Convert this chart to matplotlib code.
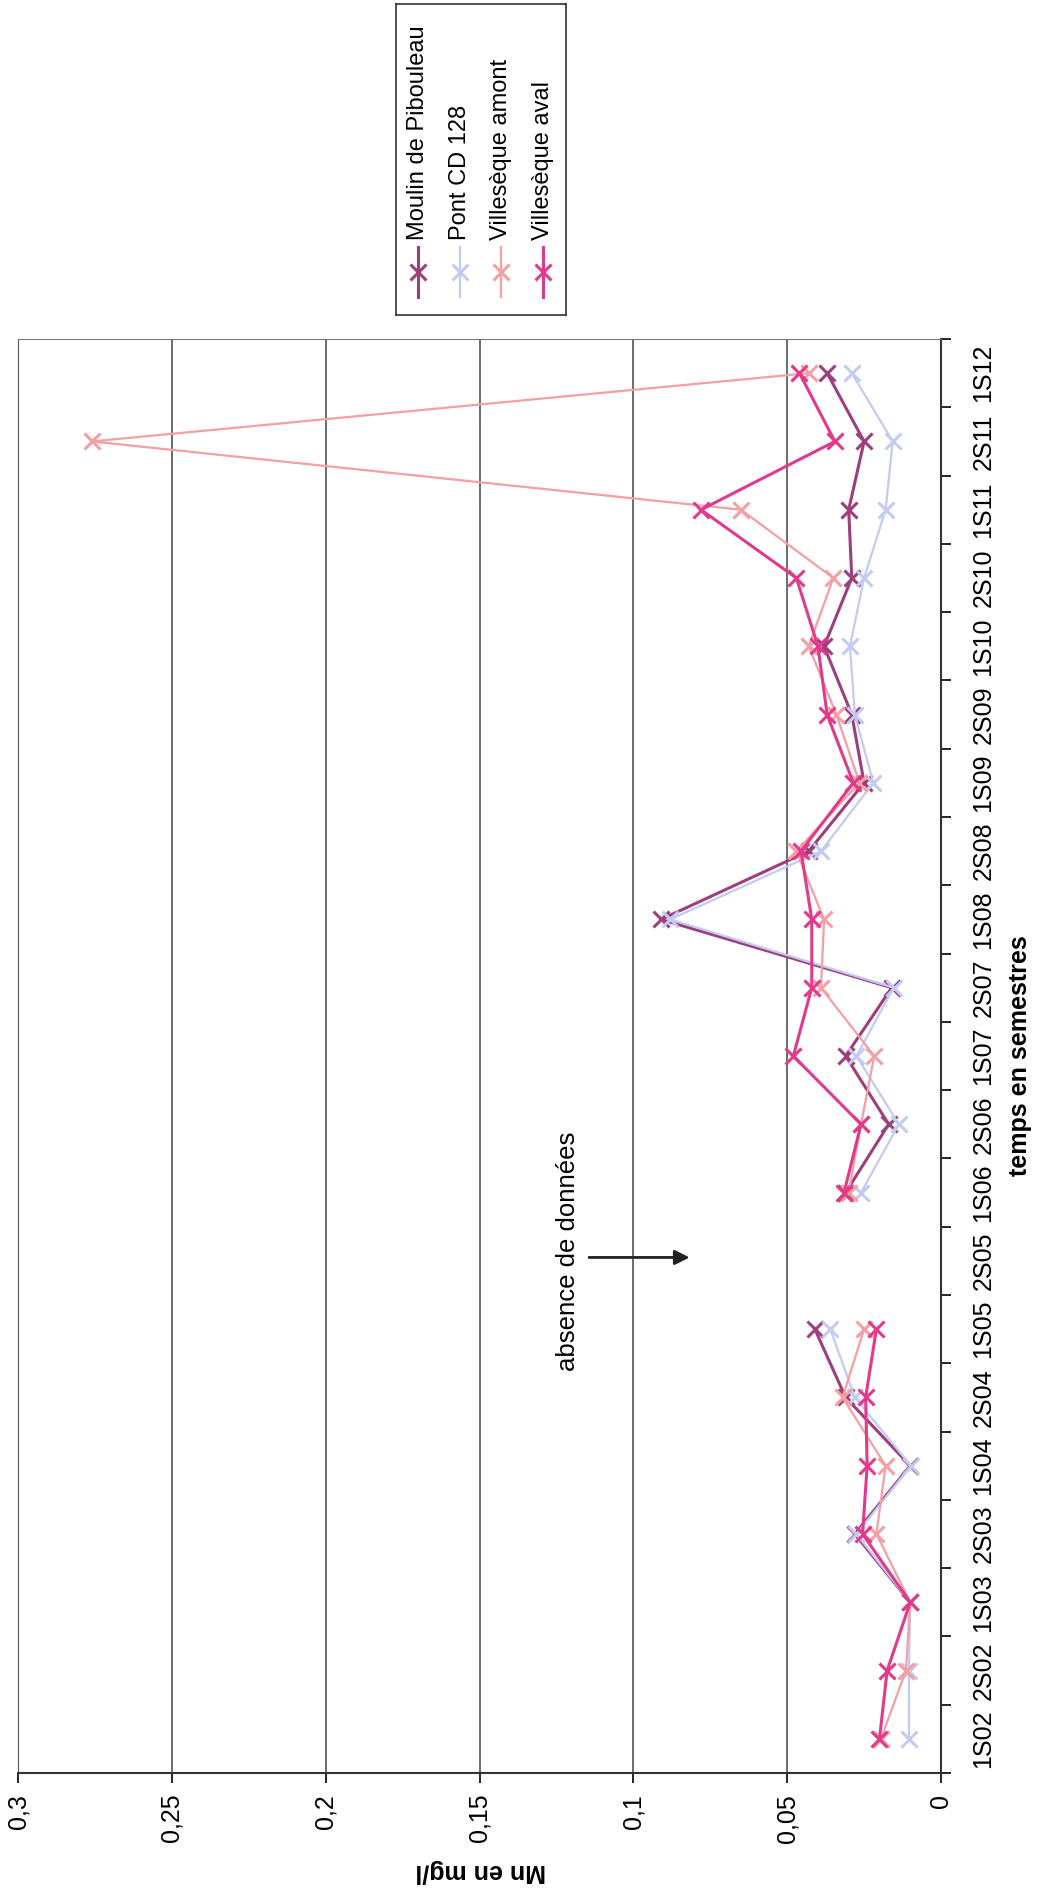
import numpy as np
import matplotlib
matplotlib.use("Agg")
import matplotlib.pyplot as plt

plt.rcParams['font.family'] = ['Liberation Sans', 'DejaVu Sans']

# semesters, bottom to top
semestres = ["1S02", "2S02", "1S03", "2S03", "1S04", "2S04", "1S05", "2S05",
             "1S06", "2S06", "1S07", "2S07", "1S08", "2S08", "1S09", "2S09",
             "1S10", "2S10", "1S11", "2S11", "1S12"]

nan = np.nan
moulin = [nan, nan, 0.010, 0.028, 0.010, 0.031, 0.041, nan,
          0.031, 0.017, 0.031, 0.016, 0.091, 0.043, 0.025, 0.029,
          0.038, 0.029, 0.030, 0.025, 0.037]
pont = [0.0104, 0.0104, 0.010, 0.0275, 0.0098, 0.028, 0.036, nan,
        0.026, 0.0137, 0.0275, 0.0154, 0.088, 0.039, 0.022, 0.028,
        0.0296, 0.025, 0.018, 0.0157, 0.029]
amont = [0.0195, 0.0114, 0.010, 0.021, 0.018, 0.032, 0.025, nan,
         0.030, 0.026, 0.0217, 0.039, 0.038, 0.047, 0.0265, 0.034,
         0.043, 0.035, 0.065, 0.276, 0.043]
aval = [0.020, 0.0175, 0.010, 0.0255, 0.024, 0.0245, 0.021, nan,
        0.0315, 0.026, 0.048, 0.042, 0.042, 0.0455, 0.0285, 0.037,
        0.040, 0.047, 0.078, 0.0345, 0.046]

noms = ["Moulin de Pibouleau", "Pont CD 128", "Villesèque amont", "Villesèque aval"]
couleurs = ["#9c3f7c", "#c3cbf3", "#f59ea3", "#e2398b"]
epaisseurs = [2.2, 1.6, 1.6, 2.2]

value_ticks = [0, 0.05, 0.1, 0.15, 0.2, 0.25, 0.3]
value_labels = ["0", "0,05", "0,1", "0,15", "0,2", "0,25", "0,3"]

W, H = 1040, 1891
fig = plt.figure(figsize=(W / 100, H / 100), dpi=100)
ax = fig.add_axes([18 / W, (H - 1773) / H, (941 - 18) / W, (1773 - 339) / H])

pos = np.arange(len(semestres))
for vals, nom, col, lw in zip([moulin, pont, amont, aval], noms, couleurs, epaisseurs):
    ax.plot(vals, pos, color=col, lw=lw, marker='x', ms=12, mew=2.2, label=nom)

# value axis (horizontal, reversed)
ax.set_xlim(0.3, 0)
ax.set_xticks(value_ticks)
ax.set_xticklabels(value_labels, rotation=90, fontsize=18)
ax.tick_params(axis='x', direction='out', length=7, width=1.2, pad=8)
ax.xaxis.grid(True, color='#444444', lw=1.1)
ax.set_axisbelow(True)

# category axis on the right
ax.set_ylim(-0.5, len(semestres) - 0.5)
ax.yaxis.tick_right()
ax.set_yticks(np.arange(-0.5, len(semestres), 1))
ax.set_yticklabels([])
ax.set_yticks(pos, minor=True)
ax.set_yticklabels(semestres, minor=True, rotation=90, fontsize=18, va='center')
ax.tick_params(axis='y', which='major', direction='out', length=7, width=1.2)
ax.tick_params(axis='y', which='minor', length=0, pad=22)

ax.spines['left'].set_color('#555555')
ax.spines['top'].set_color('#777777')
ax.spines['right'].set_color('#333333')
ax.spines['right'].set_linewidth(1.5)
ax.spines['bottom'].set_color('#333333')
ax.spines['bottom'].set_linewidth(1.5)

# no data annotation
ax.annotate('', xy=(0.0808, 7.05), xytext=(0.1153, 7.05),
            arrowprops=dict(arrowstyle='-|>', color='#222222', lw=2, mutation_scale=22))
ax.text(0.1211, 7.14, "absence de données", rotation=90, ha='center', va='center', fontsize=18.5)

fig.text(481 / W, 1 - 1871 / H, "Mn en mg/l", rotation=180, ha='center', va='center',
         fontsize=18, fontweight='bold')
fig.text(1020 / W, 1 - 1056 / H, "temps en semestres", rotation=90, ha='center', va='center',
         fontsize=18, fontweight='bold')

# legend box, drawn by hand because its entries are rotated
lax = fig.add_axes([396 / W, (H - 315) / H, 170 / W, 311 / H])
lax.set_xlim(0, 170)
lax.set_ylim(0, 311)
lax.set_xticks([])
lax.set_yticks([])
for s in lax.spines.values():
    s.set_color('#333333')
    s.set_linewidth(1.2)
for i, (nom, col, lw) in enumerate(zip(noms, couleurs, epaisseurs)):
    x = 22 + 41.7 * i
    lax.plot([x, x], [18, 68], color=col, lw=lw)
    lax.plot([x], [43], marker='x', ms=12, mew=2.2, color=col)
    lax.text(x, 75, nom, rotation=90, ha='center', va='bottom', fontsize=17)

fig.savefig("out.png", dpi=100)
